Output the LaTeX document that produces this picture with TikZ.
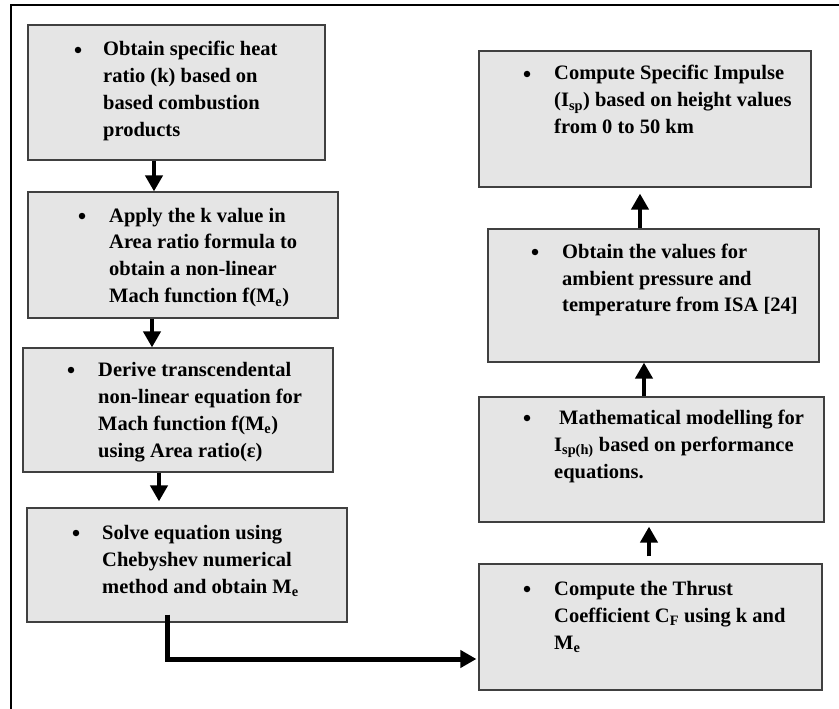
\documentclass[tikz,border=0pt]{standalone}
\usepackage{fontspec}
\setmainfont{Liberation Serif}
\usetikzlibrary{arrows.meta}
\newcommand{\lines}[1]{\begin{tabular}[t]{@{}l@{}}#1\end{tabular}}
\begin{document}
\begin{tikzpicture}[x=1pt,y=-1pt,
  box/.style={draw=black!75, line width=1.2pt, fill=black!10, inner sep=0pt},
  txt/.style={anchor=base west, inner sep=0pt, font=\fontsize{20.5}{27}\selectfont\bfseries},
  bul/.style={circle, fill=black, inner sep=0pt, minimum size=6.5pt, yshift=6pt},
  arr/.style={line width=4.5pt, -{Triangle[width=17pt,length=16pt]}}]
\useasboundingbox (0,0) rectangle (839,709);
\draw[line width=2pt] (11,709) -- (11,5) -- (839,5);
% boxes
\node[box, minimum width=297pt, minimum height=135pt] (L1) at (176.5,92.5) {};
\node[box, minimum width=310pt, minimum height=126pt] (L2) at (183,255) {};
\node[box, minimum width=310pt, minimum height=124pt] (L3) at (178,410) {};
\node[box, minimum width=320pt, minimum height=114pt] (L4) at (187,565) {};
\node[box, minimum width=332pt, minimum height=136pt] (R1) at (645,119) {};
\node[box, minimum width=331pt, minimum height=133pt] (R2) at (653.5,295.5) {};
\node[box, minimum width=345pt, minimum height=125pt] (R3) at (651.5,459.5) {};
\node[box, minimum width=343pt, minimum height=126pt] (R4) at (650.5,627) {};
% texts
\node[bul] (bL1) at (78,56) {};
\node[txt] (tL1) at (103,56) {\lines{Obtain specific heat\\ratio (k) based on\\based combustion\\products}};
\node[bul] (bL2) at (82,222) {};
\node[txt] (tL2) at (109,222) {\lines{Apply the k value in\\Area ratio formula to\\obtain a non-linear\\Mach function f(M\textsubscript{e})}};
\node[bul] (bL3) at (71,376) {};
\node[txt] (tL3) at (98,376) {\lines{Derive transcendental\\non-linear equation for\\Mach function f(M\textsubscript{e})\\using Area ratio(ε)}};
\node[bul] (bL4) at (76,539) {};
\node[txt] (tL4) at (102,539) {\lines{Solve equation using\\Chebyshev numerical\\method and obtain M\textsubscript{e}}};
\node[bul] (bR1) at (527,80) {};
\node[txt] (tR1) at (554,80) {\lines{Compute Specific Impulse\\(I\textsubscript{sp}) based on height values\\from 0 to 50 km}};
\node[bul] (bR2) at (535,258) {};
\node[txt] (tR2) at (562,258) {\lines{Obtain the values for\\ambient pressure and\\temperature from ISA [24]}};
\node[bul] (bR3) at (527,424) {};
\node[txt] (tR3) at (554,424) {\lines{\hspace{5pt}Mathematical modelling for\\I\textsubscript{sp(h)} based on performance\\equations.}};
\node[bul] (bR4) at (527,595) {};
\node[txt] (tR4) at (554,595) {\lines{Compute the Thrust\\Coefficient C\textsubscript{F} using k and\\M\textsubscript{e}}};
% connectors
\coordinate (x1) at (154,0);
\coordinate (x2) at (152,0);
\coordinate (x3) at (159,0);
\coordinate (x4) at (167,0);
\coordinate (xr1) at (640,0);
\coordinate (xr2) at (644,0);
\coordinate (xr3) at (649,0);
\draw[arr] (L1.south -| x1) -- (L2.north -| x1);
\draw[arr] (L2.south -| x2) -- (L3.north -| x2);
\draw[arr, shorten >=6pt] (L3.south -| x3) -- (L4.north -| x3);
\coordinate (elb) at (167,659);
\draw[arr, line width=5pt, shorten >=2pt] ([yshift=8pt]L4.south -| x4) -- (elb) -- (elb -| R4.west);
\draw[arr, shorten <=7pt, shorten >=4pt] (R4.north -| xr3) -- (R3.south -| xr3);
\draw[arr] (R3.north -| xr2) -- (R2.south -| xr2);
\draw[arr, shorten >=6pt] (R2.north -| xr1) -- (R1.south -| xr1);
\end{tikzpicture}
\end{document}
